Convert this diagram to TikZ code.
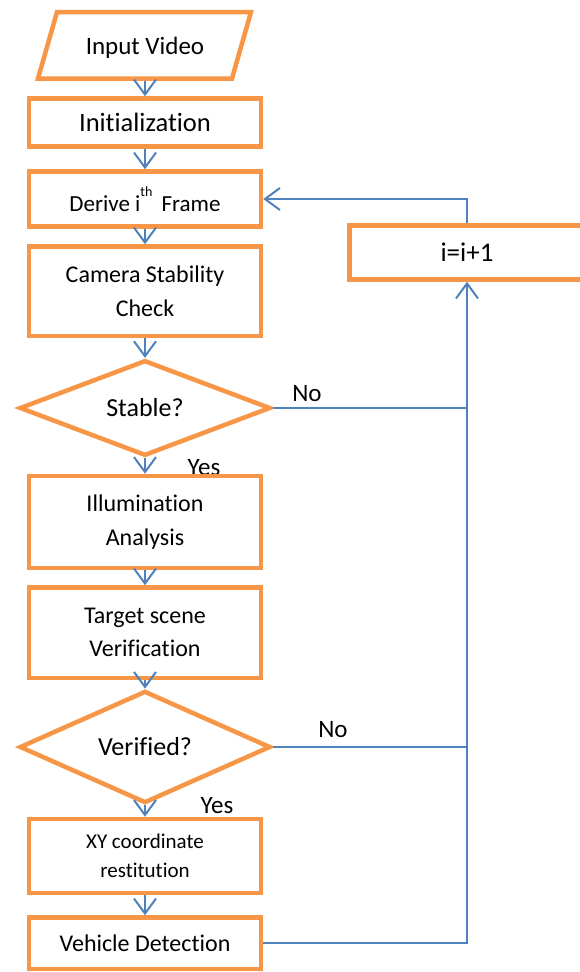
\documentclass[tikz,border=0pt]{standalone}
\usepackage{fontspec}
\setmainfont[Ligatures=NoCommon]{Carlito}
\usetikzlibrary{shapes.geometric,arrows.meta}
\definecolor{boxorange}{HTML}{F79646}
\definecolor{flowblue}{HTML}{4F81BD}
\newcommand{\txtsize}[1]{\fontsize{#1}{#1}\selectfont}
\begin{document}
\begin{tikzpicture}[x=1pt,y=-1pt,
	process/.style={draw=boxorange,line width=4.5pt,fill=white,minimum width=232pt,inner sep=0pt,align=center},
	decision/.style={diamond,draw=boxorange,line width=4.5pt,fill=white,minimum width=251pt,minimum height=92pt,inner sep=0pt,font=\txtsize{26}},
	flow/.style={draw=flowblue,line width=2pt,-{Straight Barb[length=15pt,width=22pt]}},
	back/.style={draw=flowblue,line width=2pt},
	answer/.style={anchor=base,inner sep=0pt,font=\txtsize{25}}
]
%\draw[help lines] (0,0) grid (580,972);
	\clip (0,0) rectangle (580,972);
	% labels first, the boxes cover their feet
	\node[answer] (yes1) at (204,475) {Yes};
	\node[answer] (no1) at (307,401) {No};
	\node[answer] (yes2) at (217,813) {Yes};
	\node[answer] (no2) at (333,737) {No};
	
	\draw[boxorange,line width=4.5pt,fill=white] (57,12) -- (251,12) -- (232,78.5) -- (38,78.5) -- cycle;
	\node[inner sep=0pt,minimum height=65.5pt,font=\txtsize{25}] (input) at (145,48) {Input Video};
	
	\node[process,minimum height=48pt,font=\txtsize{26.5}] (init) at (145,122.5) {Initialization};
	\node[process,minimum height=55pt,font=\txtsize{23}] (derive) at (145,199)
		{Derive i\raisebox{15pt}{\txtsize{14}th} \,Frame};
	\node[process,minimum height=89.5pt,font=\fontsize{24}{33.5}\selectfont] (camera) at (145,291.25) {Camera Stability\\Check};
	\node[decision] (stable) at (145,408) {Stable?};
	\node[process,minimum height=92pt,font=\fontsize{24}{34}\selectfont] (illum) at (145,522) {Illumination\\Analysis};
	\node[process,minimum height=90.5pt,font=\fontsize{24}{33}\selectfont] (target) at (145,632.75) {Target scene\\Verification};
	\node[decision] (verified) at (145,747) {Verified?};
	\node[process,minimum height=74pt,font=\fontsize{21}{29}\selectfont] (xy) at (145,856) {XY coordinate\\restitution};
	\node[process,minimum height=51.5pt,font=\txtsize{24}] (vehicle) at (145,943.25) {Vehicle Detection};
	\node[process,minimum width=235pt,minimum height=54pt,font=\txtsize{27}] (iinc) at (467,252.5) {i=i+1};
	
	\draw[flow] (input.south) -- (init.north);
	\foreach \a/\b in {init/derive,derive/camera,camera/stable,stable/illum,illum/target,target/verified,verified/xy,xy/vehicle}
		\draw[flow] (\a.south) -- (\b.north);
	
	\draw[back] (stable.east) -- (stable.east -| iinc.south);
	\draw[back] (verified.east) -- (verified.east -| iinc.south);
	\draw[flow] (vehicle.east) -| (iinc.south);
	\draw[flow] (iinc.north) |- (derive.east);
\end{tikzpicture}
\end{document}
